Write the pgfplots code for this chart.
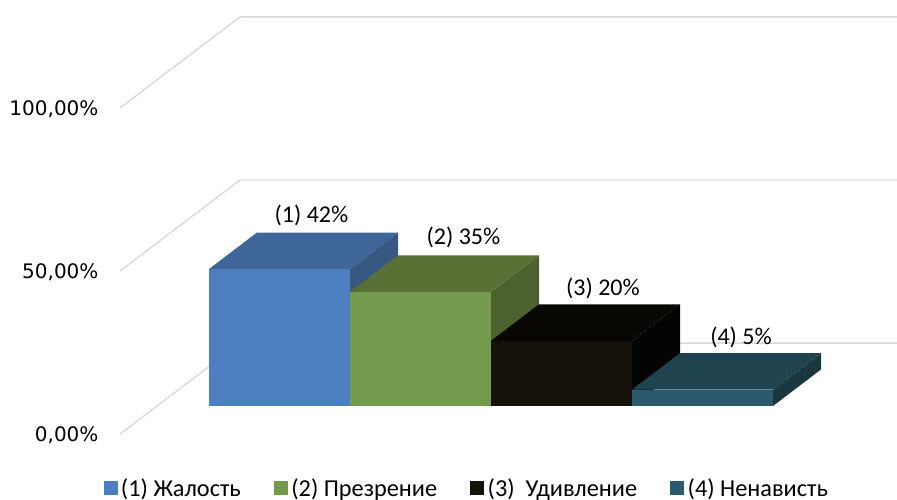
\documentclass[border=0pt]{standalone}
\usepackage{pgfplots}
\pgfplotsset{compat=1.18}
\usepackage{fontspec}
\setmainfont{Carlito}
\newfontfamily\tickfont{DejaVu Sans}
\definecolor{bF}{HTML}{4C7FBF}\definecolor{bT}{HTML}{3F6698}\definecolor{bS}{HTML}{375880}
\definecolor{gF}{HTML}{749A4D}\definecolor{gT}{HTML}{5A7136}\definecolor{gS}{HTML}{4D612E}
\definecolor{kF}{HTML}{15120A}\definecolor{kT}{HTML}{080703}\definecolor{kS}{HTML}{030302}
\definecolor{tF}{HTML}{2B5A6F}\definecolor{tT}{HTML}{1F444F}\definecolor{tS}{HTML}{1A363F}
\definecolor{grd}{HTML}{D9D9D9}
\pgfplotsset{
  sq/.style={legend image code/.code={\fill[#1] (0.02cm,-0.22cm) rectangle (0.48cm,0.24cm);}}
}
\begin{document}
\begin{tikzpicture}
\begin{axis}[
  at={(0,0)},anchor=south west,
  scale only axis,width=897pt,height=498pt,
  xmin=0,xmax=897,ymin=-28.2,ymax=124.5,
  axis line style={draw=none},
  xtick=\empty,
  ytick={-8.6,41.4,91.4},
  yticklabels={0{,}00\%,50{,}00\%,100{,}00\%},
  major tick style={draw=none},
  yticklabel style={font=\tickfont\fontsize{20}{22}\selectfont,anchor=east,xshift=102pt,yshift=-1.5pt},
  clip=true,
  legend cell align=left,
  legend columns=4,
  legend style={draw=none,fill=none,at={(axis cs:103.5,-25.2)},anchor=west,
    font=\fontsize{24.3}{24}\selectfont,inner sep=0pt,outer sep=0pt,
    /tikz/every even column/.append style={column sep=31pt},
    /tikz/every odd column/.append style={column sep=2pt}},
]
% walls
\addplot[grd,line width=1.4pt,forget plot] coordinates {(120,-8.6)(240,19.3)(897,19.3)};
\addplot[grd,line width=1.4pt,forget plot] coordinates {(120,41.4)(240,69.3)(897,69.3)};
\addplot[grd,line width=1.4pt,forget plot] coordinates {(120,91.4)(240,119.3)(897,119.3)};
% (1)
\addplot[fill=bS,draw=none,forget plot] coordinates {(350,0)(398,11.2)(398,53.2)(350,42)} --cycle;
\addplot[fill=bT,draw=none,forget plot] coordinates {(209,42)(350,42)(398,53.2)(257,53.2)} --cycle;
\addplot[fill=bF,draw=none,forget plot] coordinates {(209,0)(350,0)(350,42)(209,42)} --cycle;
% (2)
\addplot[fill=gS,draw=none,forget plot] coordinates {(491,0)(539,11.2)(539,46.2)(491,35)} --cycle;
\addplot[fill=gT,draw=none,forget plot] coordinates {(350,35)(491,35)(539,46.2)(398,46.2)} --cycle;
\addplot[fill=gF,draw=none,forget plot] coordinates {(350,0)(491,0)(491,35)(350,35)} --cycle;
% (3)
\addplot[fill=kS,draw=none,forget plot] coordinates {(632,0)(680,11.2)(680,31.2)(632,20)} --cycle;
\addplot[fill=kT,draw=none,forget plot] coordinates {(491,20)(632,20)(680,31.2)(539,31.2)} --cycle;
\addplot[fill=kF,draw=none,forget plot] coordinates {(491,0)(632,0)(632,20)(491,20)} --cycle;
% (4)
\addplot[fill=tS,draw=none,forget plot] coordinates {(773,0)(821,11.2)(821,16.2)(773,5)} --cycle;
\addplot[fill=tT,draw=none,forget plot] coordinates {(632,5)(773,5)(821,16.2)(680,16.2)} --cycle;
\addplot[fill=tF,draw=none,forget plot] coordinates {(632,0)(773,0)(773,5)(632,5)} --cycle;
% data labels
\node[font=\fontsize{24}{24}\selectfont,inner sep=0pt] at (axis cs:311.5,58.6) {(1) 42\%};
\node[font=\fontsize{24}{24}\selectfont,inner sep=0pt] at (axis cs:463.5,51.8) {(2) 35\%};
\node[font=\fontsize{24}{24}\selectfont,inner sep=0pt] at (axis cs:603,36.2) {(3) 20\%};
\node[font=\fontsize{24}{24}\selectfont,inner sep=0pt] at (axis cs:741,20.9) {(4) 5\%};
% legend
\addlegendimage{sq=bF}\addlegendentry{(1) Жалость}
\addlegendimage{sq=gF}\addlegendentry{(2) Презрение\hspace{2pt}}
\addlegendimage{sq=kF}\addlegendentry{(3)\ \ Удивление\hspace{3pt}}
\addlegendimage{sq=tF}\addlegendentry{(4) Ненависть}
\end{axis}
\end{tikzpicture}
\end{document}
